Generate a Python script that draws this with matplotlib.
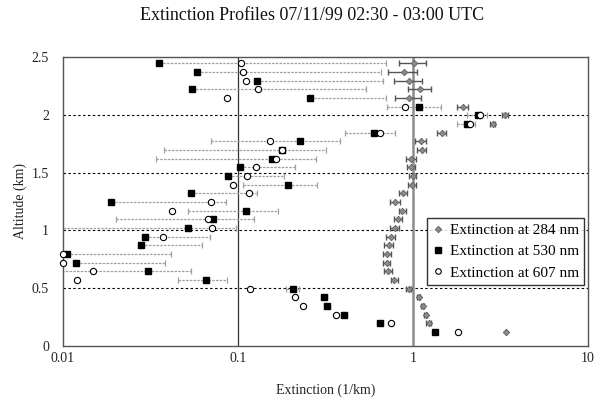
import numpy as np
import matplotlib
matplotlib.use("Agg")
import matplotlib.pyplot as plt
from matplotlib.lines import Line2D

plt.rcParams['font.family'] = ['Liberation Serif', 'DejaVu Serif']

title = "Extinction Profiles 07/11/99 02:30 - 03:00 UTC"
xlabel = "Extinction (1/km)"
ylabel = "Altitude (km)"
series_names = ["Extinction at 284 nm", "Extinction at 530 nm", "Extinction at 607 nm"]

altitude = [2.445, 2.37, 2.295, 2.22, 2.145, 2.07, 1.995, 1.92, 1.845, 1.77, 1.695,
            1.62, 1.545, 1.47, 1.395, 1.32, 1.245, 1.17, 1.095, 1.02, 0.945, 0.87,
            0.795, 0.72, 0.645, 0.57, 0.495, 0.42, 0.345, 0.27, 0.195, 0.12]

ext284 = [1.01, 0.89, 0.95, 1.10, 0.945, 1.92, 3.35, 2.86, 1.46, 1.11, 1.12,
          0.975, 0.975, 0.995, 0.985, 0.88, 0.79, 0.87, 0.82, 0.785, 0.745, 0.725,
          0.71, 0.706, 0.72, 0.783, 0.945, 1.078, 1.134, 1.18, 1.23, 3.42]
err284 = [0.18, 0.17, 0.17, 0.16, 0.16, 0.13, 0.12, 0.10, 0.08, 0.08, 0.07,
          0.06, 0.05, 0.05, 0.05, 0.05, 0.05, 0.04, 0.04, 0.05, 0.04, 0.04,
          0.04, 0.035, 0.035, 0.035, 0.03, 0.02, 0.02, 0.025, 0.04, 0.0]

ext530 = [0.0354, 0.0581, 0.128, 0.0546, 0.259, 1.077, 2.34, 2.03, 0.601, 0.227, 0.178,
          0.157, 0.1022, 0.0873, 0.194, 0.0539, 0.0189, 0.1106, 0.072, 0.0518, 0.0294, 0.0278,
          0.0106, 0.0118, 0.0306, 0.0659, 0.206, 0.309, 0.323, 0.402, 0.646, 1.332]
err530 = [0.666, 0.601, 0.546, 0.484, 0.442, 0.365, 0.31, 0.24, 0.19, 0.157, 0.14,
          0.123, 0.11, 0.097, 0.087, 0.075, 0.067, 0.059, 0.052, 0.046, 0.040, 0.0347,
          0.0306, 0.0267, 0.0233, 0.0205, 0.017, 0.012, 0.012, 0.015, 0.025, 0.0]

ext607 = [0.1036, 0.1068, 0.1116, 0.1306, 0.0865, 0.90, 2.43, 2.11, 0.648, 0.152, 0.178,
          0.1656, 0.126, 0.112, 0.094, 0.1156, 0.0701, 0.0418, 0.0674, 0.0708, 0.0374, np.nan,
          0.01, 0.01, 0.0149, 0.0121, 0.1176, 0.2117, 0.2366, 0.364, 0.744, 1.803]

xticks = [0.01, 0.1, 1, 10]
xticklabels = ["0.01", "0.1", "1", "10"]
yticks = [0, 0.5, 1, 1.5, 2, 2.5]
yticklabels = ["0", "0.5", "1", "1.5", "2", "2.5"]
hlines = [0.5, 1.0, 1.5, 2.0]

fig = plt.figure(figsize=(6.03, 4.0), dpi=100)
ax = fig.add_axes([63/603, 1-346/400, (588-63)/603, (346-57)/400])
ax.set_xscale('log')
ax.set_xlim(0.01, 10)
ax.set_ylim(0, 2.5)

for h in hlines:
    ax.axhline(h, color='black', lw=0.8, ls=(0, (2.2, 2.2)), zorder=1)
ax.axvline(0.1, color='#333333', lw=0.9, zorder=1)
ax.axvline(1.0, color='#8c8c8c', lw=1.8, zorder=1)

alt = np.array(altitude)
e530 = np.array(ext530)
er530 = np.array(err530)
low530 = np.where(e530 - er530 > 0, er530, 0.0)
eb = ax.errorbar(e530, alt, xerr=[low530, er530], fmt='none', ecolor='#a0a0a0',
                 elinewidth=0.9, capsize=2.2, capthick=0.9, zorder=2)
eb[2][0].set_linestyle((0, (2.0, 1.0)))

e284 = np.array(ext284)
er284 = np.array(err284)
ax.errorbar(e284, alt, xerr=er284, fmt='none', ecolor='#555555',
            elinewidth=1.0, capsize=2.5, capthick=1.0, zorder=3)

ax.plot(e284, alt, ls='none', marker='D', ms=3.3, mfc='#8a8a8a', mec='#606060',
        mew=0.6, zorder=5, clip_on=False)
ax.plot(e530, alt, ls='none', marker='s', ms=5, mfc='black', mec='black',
        zorder=6, clip_on=False)
ax.plot(np.array(ext607), alt, ls='none', marker='o', ms=4.5, mfc='white', mec='black',
        mew=0.8, zorder=7, clip_on=False)

ax.set_xticks(xticks)
ax.set_xticklabels(xticklabels)
ax.xaxis.set_minor_locator(matplotlib.ticker.NullLocator())
ax.set_yticks(yticks)
ax.set_yticklabels(yticklabels)
ax.tick_params(axis='both', length=0, labelsize=10, colors='#222222')
ax.tick_params(axis='x', pad=4)
ax.tick_params(axis='y', pad=10)
for s in ax.spines.values():
    s.set_color('#555555')
    s.set_linewidth(1.0)

handles = [
    Line2D([], [], ls='none', marker='D', ms=3.3, mfc='#8a8a8a', mec='#606060', mew=0.6),
    Line2D([], [], ls='none', marker='s', ms=5, mfc='black', mec='black'),
    Line2D([], [], ls='none', marker='o', ms=4, mfc='white', mec='black', mew=0.8),
]
leg = ax.legend(handles, series_names, loc='upper left', bbox_to_anchor=(0.693, 0.443),
                frameon=True, fancybox=False, fontsize=11, handlelength=0.7,
                handletextpad=0.45, borderpad=0.35, labelspacing=0.5, borderaxespad=0)
leg.get_frame().set_edgecolor('black')
leg.get_frame().set_linewidth(1.0)
leg.set_zorder(10)

fig.text(312/603, 1-16/400, title, ha='center', va='center', fontsize=13, color='#111111')
fig.text(326/603, 1-390/400, xlabel, ha='center', va='center', fontsize=10, color='#222222')
fig.text(20/603, 1-201/400, ylabel, ha='center', va='center', rotation=90, fontsize=10,
         color='#222222')

fig.savefig('out.png', dpi=100)
